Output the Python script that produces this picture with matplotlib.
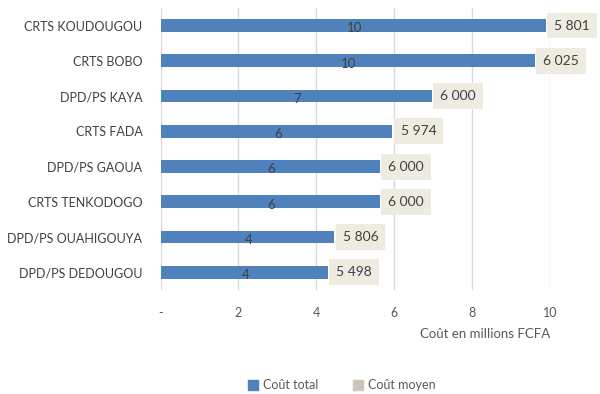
import matplotlib
matplotlib.use('Agg')
import matplotlib.pyplot as plt
from matplotlib.patches import Patch

plt.rcParams['font.family'] = ['Lato', 'DejaVu Sans']

sites = ['CRTS KOUDOUGOU', 'CRTS BOBO', 'DPD/PS KAYA', 'CRTS FADA',
         'DPD/PS GAOUA', 'CRTS TENKODOGO', 'DPD/PS OUAHIGOUYA', 'DPD/PS DEDOUGOU']
cout_total = [9.88, 9.60, 6.96, 5.95, 5.63, 5.63, 4.46, 4.29]
cout_moyen = [5801, 6025, 6000, 5974, 6000, 6000, 5806, 5498]
xticks = [0, 2, 4, 6, 8, 10]
xtick_labels = ['-', '2', '4', '6', '8', '10']

blue = '#4F81BD'
beige = '#EEECE1'
txt = '#404040'

fig = plt.figure(figsize=(6, 3.94), dpi=100)
ax = fig.add_axes([0.2675, 0.264, 0.917 - 0.2675, 0.716])

ypos = list(range(len(sites)))
bars = ax.barh(ypos, cout_total, height=0.36, color=blue, zorder=3)

for y, t, m in zip(ypos, cout_total, cout_moyen):
    ax.annotate(f'{round(t)}', (t / 2, y), xytext=(1, -2), textcoords='offset points',
                ha='center', va='center', fontsize=9.5, color=txt, zorder=4)
    ax.annotate(f'{m:,}'.replace(',', ' '), (t, y), xytext=(6, 0), textcoords='offset points',
                ha='left', va='center', fontsize=10, color=txt, zorder=4,
                bbox=dict(boxstyle='square,pad=0.5', fc=beige, ec='none'),
                annotation_clip=False)

ax.set_xlim(0, 10)
ax.set_ylim(len(sites) - 0.5, -0.5)
ax.set_yticks(ypos)
ax.set_yticklabels(sites, fontsize=9, color=txt)
ax.set_xticks(xticks)
ax.set_xticklabels(xtick_labels, fontsize=9, color='#595959')
ax.tick_params(length=0, pad=12)
ax.tick_params(axis='y', pad=13)
ax.grid(axis='x', color='#D9D9D9', lw=1, zorder=0)
for s in ax.spines.values():
    s.set_visible(False)

ax.set_xlabel('Coût en millions FCFA', fontsize=9.5, color='#595959', loc='right', labelpad=7)

handles = [Patch(color=blue, label='Coût total'), Patch(color='#CDC5BC', label='Coût moyen')]
fig.legend(handles=handles, loc='center', bbox_to_anchor=(0.57, 0.022), ncol=2, frameon=False,
           fontsize=9, labelcolor='#595959', handlelength=0.8, handleheight=0.8,
           columnspacing=2.8, handletextpad=0.4)

fig.savefig('out.png', dpi=100)
